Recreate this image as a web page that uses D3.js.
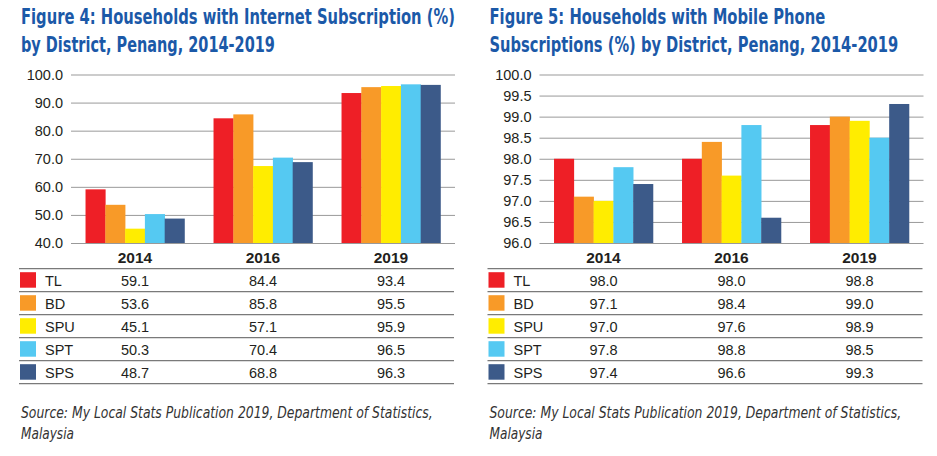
<!DOCTYPE html>
<html>
<head>
<meta charset="utf-8">
<script src="https://cdn.jsdelivr.net/npm/d3@7"></script>
<style>
  html, body { margin: 0; padding: 0; background: #fff; }
  svg { display: block; }
</style>
</head>
<body>
<svg id="chart" width="937" height="456"></svg>
<script>
// ---------------- data ----------------
const years = ["2014", "2016", "2019"];
const districts = ["TL", "BD", "SPU", "SPT", "SPS"];

// Figure 4: Internet subscription (%) — table values
const internetTL  = [59.1, 84.4, 93.4];
const internetBD  = [53.6, 85.8, 95.5];
const internetSPU = [45.1, 57.1, 95.9];
const internetSPT = [50.3, 70.4, 96.5];
const internetSPS = [48.7, 68.8, 96.3];
// SPU bar as drawn in the source figure (the 2016 bar reaches ~67.4)
const internetSPUBar = [45.1, 67.4, 95.9];
const internetTicks = [40, 50, 60, 70, 80, 90, 100];

// Figure 5: Mobile phone subscription (%)
const mobileTL  = [98.0, 98.0, 98.8];
const mobileBD  = [97.1, 98.4, 99.0];
const mobileSPU = [97.0, 97.6, 98.9];
const mobileSPT = [97.8, 98.8, 98.5];
const mobileSPS = [97.4, 96.6, 99.3];
const mobileTicks = [96.0, 96.5, 97.0, 97.5, 98.0, 98.5, 99.0, 99.5, 100.0];

const title4 = ["Figure 4: Households with Internet Subscription (%)", "by District, Penang, 2014-2019"];
const title5 = ["Figure 5: Households with Mobile Phone", "Subscriptions (%) by District, Penang, 2014-2019"];
const sourceLines = ["Source: My Local Stats Publication 2019, Department of Statistics,", "Malaysia"];

// ---------------- styles ----------------
const colour = d3.scaleOrdinal().domain(districts)
  .range(["#ee1f26", "#f89a28", "#ffed00", "#55c9f2", "#3c5a89"]);
const titleColour = "#1b59a8";
const textColour = "#231f20";
const titleFont = "'Liberation Sans Narrow', 'DejaVu Sans Condensed', 'Roboto Condensed', sans-serif";
const bodyFont = "'Liberation Sans', Arial, sans-serif";

const svg = d3.select("#chart");

// condensed text: draw at full height, then squeeze horizontally to the target width
function condensedLines(parent, lines, x, y0, dy, widths, attrs) {
  lines.forEach((line, i) => {
    const holder = parent.append("g");
    const t = holder.append("text").attr("x", 0).attr("y", 0).text(line);
    Object.entries(attrs).forEach(([k, v]) => t.attr(k, v));
    const w = t.node().getComputedTextLength();
    const sx = Math.min(1, widths[i] / w);
    holder.attr("transform", `translate(${x},${y0 + i * dy}) scale(${sx},1)`);
  });
}

function panel(ox, titles, titleWidths, tableSeries, barSeries, ticks, domain) {
  const g = svg.append("g").attr("transform", `translate(${ox},0)`);

  // titles
  condensedLines(g, titles, 21, 24, 27.7, titleWidths, {
    "font-family": titleFont, "font-weight": "bold",
    "font-size": 21.5, "fill": titleColour
  });

  const x0 = d3.scaleBand().domain(years).range([71, 455])
    .paddingInner(0.227).paddingOuter(0.1135);
  const x1 = d3.scaleBand().domain(districts).range([0, x0.bandwidth()]);
  const y = d3.scaleLinear().domain(domain).range([243, 74.5]);

  // gridlines + y labels
  const yAxis = d3.axisLeft(y).tickValues(ticks).tickFormat(d3.format(".1f"))
    .tickSize(-(455 - 71)).tickPadding(8);
  const ax = g.append("g").attr("transform", "translate(71,0)").call(yAxis);
  ax.select(".domain").remove();
  ax.selectAll(".tick line").attr("stroke", "#999").attr("stroke-width", 1);
  ax.selectAll(".tick text").attr("font-family", bodyFont).attr("font-size", 14.5)
    .attr("fill", textColour);

  // bars
  const groups = g.append("g").selectAll("g").data(years).join("g")
    .attr("transform", d => `translate(${x0(d)},0)`);
  groups.selectAll("rect")
    .data((yr, yi) => districts.map((dist, di) => ({ dist, v: barSeries[di][yi] })))
    .join("rect")
    .attr("x", d => x1(d.dist))
    .attr("width", x1.bandwidth() + 0.3)
    .attr("y", d => y(d.v))
    .attr("height", d => y(domain[0]) - y(d.v))
    .attr("fill", d => colour(d.dist));

  // table header (x axis labels)
  g.selectAll("text.yr").data(years).join("text")
    .attr("class", "yr")
    .attr("x", d => x0(d) + x0.bandwidth() / 2)
    .attr("y", 262.5)
    .attr("text-anchor", "middle")
    .attr("font-family", bodyFont).attr("font-weight", "bold")
    .attr("font-size", 15.5).attr("fill", textColour)
    .text(d => d);

  // table rows
  const rowTop = 268.7, rowH = 23;
  const rowY = d3.scaleBand().domain(districts)
    .range([rowTop, rowTop + rowH * districts.length]).padding(0);

  g.selectAll("line.rule").data([null, ...districts]).join("line")
    .attr("class", "rule")
    .attr("x1", 19).attr("x2", 454)
    .attr("y1", (d, i) => rowTop + i * rowH)
    .attr("y2", (d, i) => rowTop + i * rowH)
    .attr("stroke", "#7a7a7a").attr("stroke-width", 1.3);

  const rows = g.append("g").selectAll("g").data(districts).join("g")
    .attr("transform", d => `translate(0,${rowY(d)})`);
  rows.append("rect")
    .attr("x", 20).attr("y", 3.5).attr("width", 16).attr("height", 15.5)
    .attr("fill", d => colour(d));
  rows.append("text")
    .attr("x", 45).attr("y", 17)
    .attr("font-family", bodyFont).attr("font-size", 14.5).attr("fill", textColour)
    .text(d => d);
  rows.selectAll("text.val")
    .data((dist, di) => years.map((yr, yi) => ({ yr, v: tableSeries[di][yi] })))
    .join("text")
    .attr("class", "val")
    .attr("x", d => x0(d.yr) + x0.bandwidth() / 2)
    .attr("y", 17)
    .attr("text-anchor", "middle")
    .attr("font-family", bodyFont).attr("font-size", 14.5).attr("fill", textColour)
    .text(d => d3.format(".1f")(d.v));

  // source
  condensedLines(g, sourceLines, 21, 418, 21, [412, 53], {
    "font-family": titleFont, "font-style": "italic",
    "font-size": 15.5, "fill": "#333"
  });
}

panel(0, title4, [434, 254],
  [internetTL, internetBD, internetSPU, internetSPT, internetSPS],
  [internetTL, internetBD, internetSPUBar, internetSPT, internetSPS],
  internetTicks, [40, 100]);

panel(468.5, title5, [336, 409],
  [mobileTL, mobileBD, mobileSPU, mobileSPT, mobileSPS],
  [mobileTL, mobileBD, mobileSPU, mobileSPT, mobileSPS],
  mobileTicks, [96, 100]);
</script>
</body>
</html>
